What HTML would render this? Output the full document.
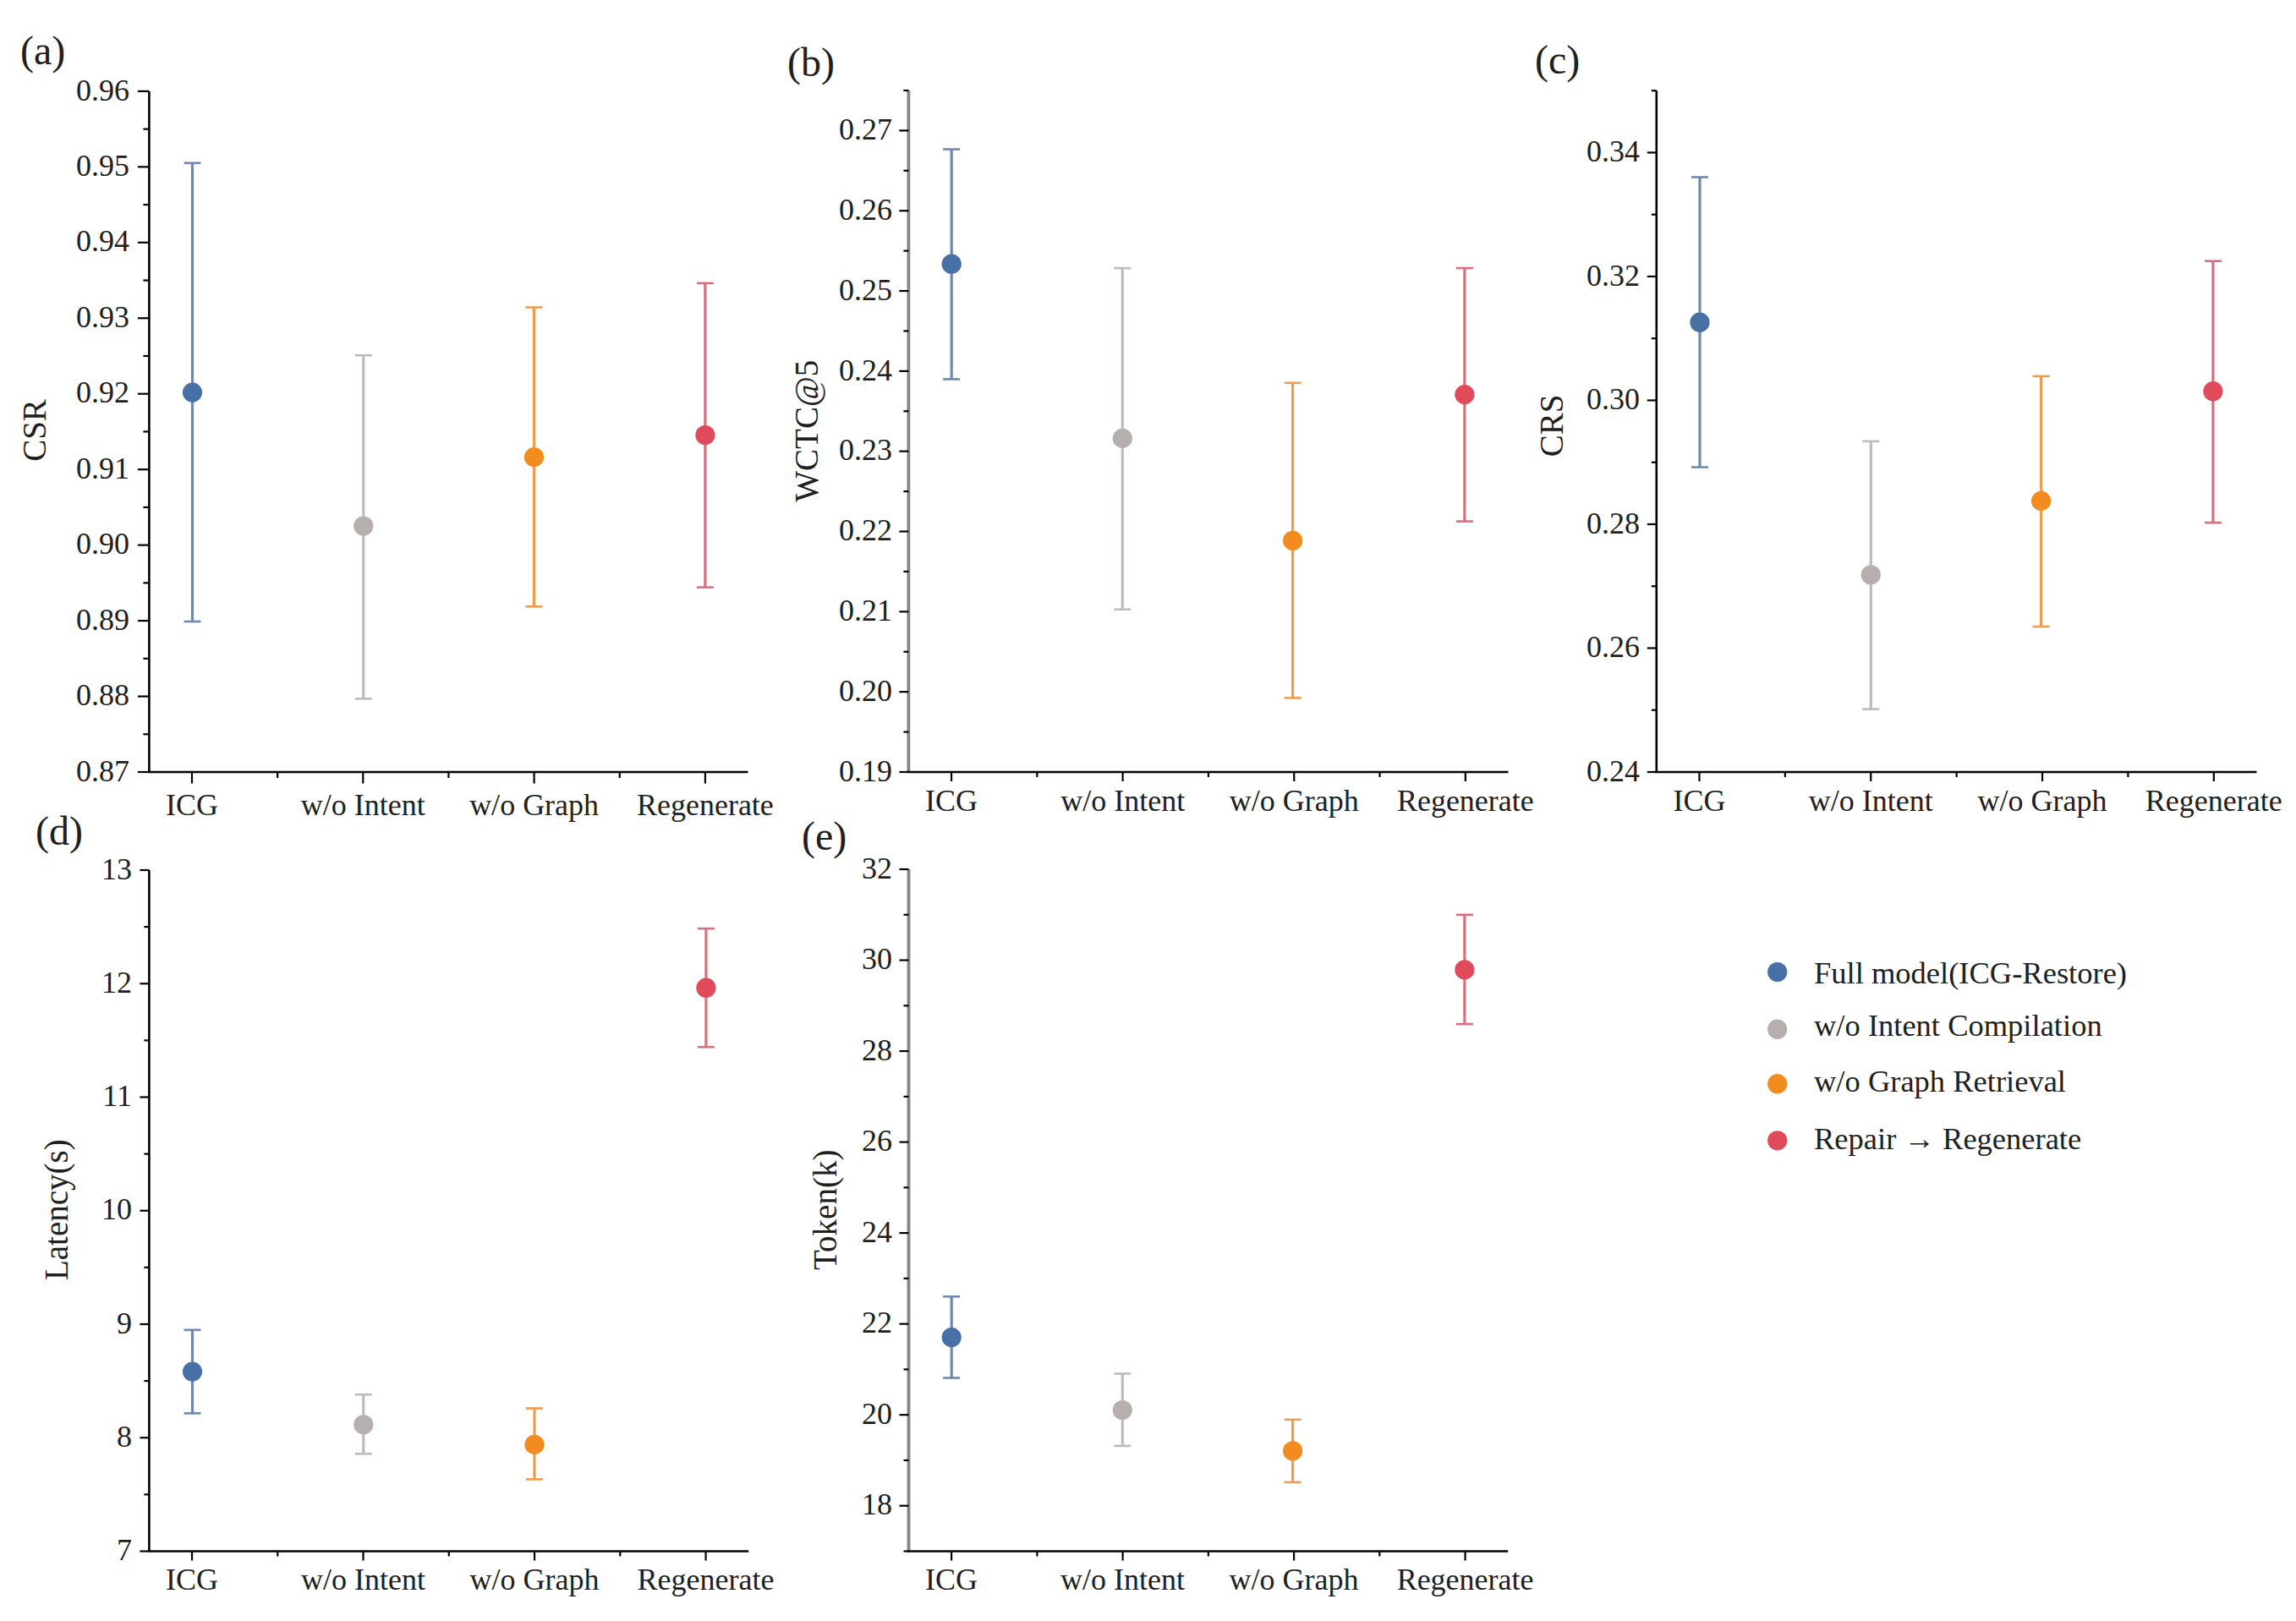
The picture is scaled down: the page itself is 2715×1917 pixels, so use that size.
<!DOCTYPE html>
<html><head><meta charset="utf-8"><title>chart</title>
<style>
html,body{margin:0;padding:0;background:#fff;}
body{width:2715px;height:1917px;overflow:hidden;}
svg{display:block;}
text{font-family:"Liberation Serif", serif;fill:#202020;}
</style></head><body>
<svg width="2715" height="1917" viewBox="0 0 2715 1917">
<rect width="2715" height="1917" fill="#fff"/>
<line x1="176.4" y1="107.9" x2="176.4" y2="913.0" stroke="#000" stroke-width="2.6"/>
<line x1="175.1" y1="913.0" x2="884.5" y2="913.0" stroke="#000" stroke-width="2.6"/>
<line x1="162.9" y1="913.00" x2="176.4" y2="913.00" stroke="#000" stroke-width="2.2"/>
<line x1="162.9" y1="823.54" x2="176.4" y2="823.54" stroke="#000" stroke-width="2.2"/>
<line x1="162.9" y1="734.09" x2="176.4" y2="734.09" stroke="#000" stroke-width="2.2"/>
<line x1="162.9" y1="644.63" x2="176.4" y2="644.63" stroke="#000" stroke-width="2.2"/>
<line x1="162.9" y1="555.18" x2="176.4" y2="555.18" stroke="#000" stroke-width="2.2"/>
<line x1="162.9" y1="465.72" x2="176.4" y2="465.72" stroke="#000" stroke-width="2.2"/>
<line x1="162.9" y1="376.27" x2="176.4" y2="376.27" stroke="#000" stroke-width="2.2"/>
<line x1="162.9" y1="286.81" x2="176.4" y2="286.81" stroke="#000" stroke-width="2.2"/>
<line x1="162.9" y1="197.36" x2="176.4" y2="197.36" stroke="#000" stroke-width="2.2"/>
<line x1="162.9" y1="107.90" x2="176.4" y2="107.90" stroke="#000" stroke-width="2.2"/>
<line x1="169.4" y1="868.27" x2="176.4" y2="868.27" stroke="#000" stroke-width="2.2"/>
<line x1="169.4" y1="778.82" x2="176.4" y2="778.82" stroke="#000" stroke-width="2.2"/>
<line x1="169.4" y1="689.36" x2="176.4" y2="689.36" stroke="#000" stroke-width="2.2"/>
<line x1="169.4" y1="599.91" x2="176.4" y2="599.91" stroke="#000" stroke-width="2.2"/>
<line x1="169.4" y1="510.45" x2="176.4" y2="510.45" stroke="#000" stroke-width="2.2"/>
<line x1="169.4" y1="420.99" x2="176.4" y2="420.99" stroke="#000" stroke-width="2.2"/>
<line x1="169.4" y1="331.54" x2="176.4" y2="331.54" stroke="#000" stroke-width="2.2"/>
<line x1="169.4" y1="242.08" x2="176.4" y2="242.08" stroke="#000" stroke-width="2.2"/>
<line x1="169.4" y1="152.63" x2="176.4" y2="152.63" stroke="#000" stroke-width="2.2"/>
<text x="153" y="923.65" text-anchor="end" font-size="36">0.87</text>
<text x="153" y="834.19" text-anchor="end" font-size="36">0.88</text>
<text x="153" y="744.74" text-anchor="end" font-size="36">0.89</text>
<text x="153" y="655.28" text-anchor="end" font-size="36">0.90</text>
<text x="153" y="565.83" text-anchor="end" font-size="36">0.91</text>
<text x="153" y="476.37" text-anchor="end" font-size="36">0.92</text>
<text x="153" y="386.92" text-anchor="end" font-size="36">0.93</text>
<text x="153" y="297.46" text-anchor="end" font-size="36">0.94</text>
<text x="153" y="208.01" text-anchor="end" font-size="36">0.95</text>
<text x="153" y="118.55" text-anchor="end" font-size="36">0.96</text>
<line x1="226.98" y1="913.0" x2="226.98" y2="926.5" stroke="#000" stroke-width="2.2"/>
<line x1="429.29" y1="913.0" x2="429.29" y2="926.5" stroke="#000" stroke-width="2.2"/>
<line x1="631.61" y1="913.0" x2="631.61" y2="926.5" stroke="#000" stroke-width="2.2"/>
<line x1="833.92" y1="913.0" x2="833.92" y2="926.5" stroke="#000" stroke-width="2.2"/>
<line x1="328.14" y1="913.0" x2="328.14" y2="920.0" stroke="#000" stroke-width="2.2"/>
<line x1="530.45" y1="913.0" x2="530.45" y2="920.0" stroke="#000" stroke-width="2.2"/>
<line x1="732.76" y1="913.0" x2="732.76" y2="920.0" stroke="#000" stroke-width="2.2"/>
<text x="226.98" y="964" text-anchor="middle" font-size="36">ICG</text>
<text x="429.29" y="964" text-anchor="middle" font-size="36">w/o Intent</text>
<text x="631.61" y="964" text-anchor="middle" font-size="36">w/o Graph</text>
<text x="833.92" y="964" text-anchor="middle" font-size="36">Regenerate</text>
<text transform="translate(54,509) rotate(-90)" x="0" y="0" text-anchor="middle" font-size="39">CSR</text>
<text x="24" y="76" font-size="48">(a)</text>
<line x1="227.5" y1="192.8" x2="227.5" y2="735.0" stroke="#6f89ad" stroke-width="3.2"/>
<line x1="217.5" y1="192.8" x2="237.5" y2="192.8" stroke="#6f89ad" stroke-width="2.6"/>
<line x1="217.5" y1="735.0" x2="237.5" y2="735.0" stroke="#6f89ad" stroke-width="2.6"/>
<circle cx="227.5" cy="464.1" r="11.6" fill="#4670a6"/>
<line x1="429.8" y1="420.2" x2="429.8" y2="826.3" stroke="#c0bbb9" stroke-width="3.2"/>
<line x1="419.8" y1="420.2" x2="439.8" y2="420.2" stroke="#c0bbb9" stroke-width="2.6"/>
<line x1="419.8" y1="826.3" x2="439.8" y2="826.3" stroke="#c0bbb9" stroke-width="2.6"/>
<circle cx="429.8" cy="622.0" r="11.6" fill="#b6afad"/>
<line x1="631.5" y1="363.5" x2="631.5" y2="717.3" stroke="#ee9d4e" stroke-width="3.2"/>
<line x1="621.5" y1="363.5" x2="641.5" y2="363.5" stroke="#ee9d4e" stroke-width="2.6"/>
<line x1="621.5" y1="717.3" x2="641.5" y2="717.3" stroke="#ee9d4e" stroke-width="2.6"/>
<circle cx="631.5" cy="540.6" r="11.6" fill="#f28c1e"/>
<line x1="833.9" y1="334.9" x2="833.9" y2="694.6" stroke="#dc6e7c" stroke-width="3.2"/>
<line x1="823.9" y1="334.9" x2="843.9" y2="334.9" stroke="#dc6e7c" stroke-width="2.6"/>
<line x1="823.9" y1="694.6" x2="843.9" y2="694.6" stroke="#dc6e7c" stroke-width="2.6"/>
<circle cx="833.9" cy="514.5" r="11.6" fill="#e04a5a"/>
<line x1="1074.4" y1="107.0" x2="1074.4" y2="913.0" stroke="#858585" stroke-width="3.8"/>
<line x1="1073.1000000000001" y1="913.0" x2="1783.5" y2="913.0" stroke="#000" stroke-width="2.6"/>
<line x1="1063.4" y1="913.00" x2="1074.4" y2="913.00" stroke="#000" stroke-width="2.2"/>
<line x1="1063.4" y1="818.18" x2="1074.4" y2="818.18" stroke="#000" stroke-width="2.2"/>
<line x1="1063.4" y1="723.35" x2="1074.4" y2="723.35" stroke="#000" stroke-width="2.2"/>
<line x1="1063.4" y1="628.53" x2="1074.4" y2="628.53" stroke="#000" stroke-width="2.2"/>
<line x1="1063.4" y1="533.71" x2="1074.4" y2="533.71" stroke="#000" stroke-width="2.2"/>
<line x1="1063.4" y1="438.88" x2="1074.4" y2="438.88" stroke="#000" stroke-width="2.2"/>
<line x1="1063.4" y1="344.06" x2="1074.4" y2="344.06" stroke="#000" stroke-width="2.2"/>
<line x1="1063.4" y1="249.24" x2="1074.4" y2="249.24" stroke="#000" stroke-width="2.2"/>
<line x1="1063.4" y1="154.41" x2="1074.4" y2="154.41" stroke="#000" stroke-width="2.2"/>
<line x1="1068.4" y1="865.59" x2="1074.4" y2="865.59" stroke="#000" stroke-width="2.2"/>
<line x1="1068.4" y1="770.76" x2="1074.4" y2="770.76" stroke="#000" stroke-width="2.2"/>
<line x1="1068.4" y1="675.94" x2="1074.4" y2="675.94" stroke="#000" stroke-width="2.2"/>
<line x1="1068.4" y1="581.12" x2="1074.4" y2="581.12" stroke="#000" stroke-width="2.2"/>
<line x1="1068.4" y1="486.29" x2="1074.4" y2="486.29" stroke="#000" stroke-width="2.2"/>
<line x1="1068.4" y1="391.47" x2="1074.4" y2="391.47" stroke="#000" stroke-width="2.2"/>
<line x1="1068.4" y1="296.65" x2="1074.4" y2="296.65" stroke="#000" stroke-width="2.2"/>
<line x1="1068.4" y1="201.82" x2="1074.4" y2="201.82" stroke="#000" stroke-width="2.2"/>
<line x1="1068.4" y1="107.00" x2="1074.4" y2="107.00" stroke="#000" stroke-width="2.2"/>
<text x="1055" y="923.65" text-anchor="end" font-size="36">0.19</text>
<text x="1055" y="828.83" text-anchor="end" font-size="36">0.20</text>
<text x="1055" y="734.00" text-anchor="end" font-size="36">0.21</text>
<text x="1055" y="639.18" text-anchor="end" font-size="36">0.22</text>
<text x="1055" y="544.36" text-anchor="end" font-size="36">0.23</text>
<text x="1055" y="449.53" text-anchor="end" font-size="36">0.24</text>
<text x="1055" y="354.71" text-anchor="end" font-size="36">0.25</text>
<text x="1055" y="259.89" text-anchor="end" font-size="36">0.26</text>
<text x="1055" y="165.06" text-anchor="end" font-size="36">0.27</text>
<line x1="1125.05" y1="913.0" x2="1125.05" y2="924.0" stroke="#000" stroke-width="2.2"/>
<line x1="1327.65" y1="913.0" x2="1327.65" y2="924.0" stroke="#000" stroke-width="2.2"/>
<line x1="1530.25" y1="913.0" x2="1530.25" y2="924.0" stroke="#000" stroke-width="2.2"/>
<line x1="1732.85" y1="913.0" x2="1732.85" y2="924.0" stroke="#000" stroke-width="2.2"/>
<line x1="1226.35" y1="913.0" x2="1226.35" y2="919.0" stroke="#000" stroke-width="2.2"/>
<line x1="1428.95" y1="913.0" x2="1428.95" y2="919.0" stroke="#000" stroke-width="2.2"/>
<line x1="1631.55" y1="913.0" x2="1631.55" y2="919.0" stroke="#000" stroke-width="2.2"/>
<text x="1125.05" y="959" text-anchor="middle" font-size="36">ICG</text>
<text x="1327.65" y="959" text-anchor="middle" font-size="36">w/o Intent</text>
<text x="1530.25" y="959" text-anchor="middle" font-size="36">w/o Graph</text>
<text x="1732.85" y="959" text-anchor="middle" font-size="36">Regenerate</text>
<text transform="translate(967,509.7) rotate(-90)" x="0" y="0" text-anchor="middle" font-size="39">WCTC@5</text>
<text x="931" y="89.5" font-size="48">(b)</text>
<line x1="1125.2" y1="176.5" x2="1125.2" y2="448.4" stroke="#6f89ad" stroke-width="3.2"/>
<line x1="1115.2" y1="176.5" x2="1135.2" y2="176.5" stroke="#6f89ad" stroke-width="2.6"/>
<line x1="1115.2" y1="448.4" x2="1135.2" y2="448.4" stroke="#6f89ad" stroke-width="2.6"/>
<circle cx="1125.2" cy="312.2" r="11.6" fill="#4670a6"/>
<line x1="1327.3" y1="317.1" x2="1327.3" y2="720.7" stroke="#c0bbb9" stroke-width="3.2"/>
<line x1="1317.3" y1="317.1" x2="1337.3" y2="317.1" stroke="#c0bbb9" stroke-width="2.6"/>
<line x1="1317.3" y1="720.7" x2="1337.3" y2="720.7" stroke="#c0bbb9" stroke-width="2.6"/>
<circle cx="1327.3" cy="518.4" r="11.6" fill="#b6afad"/>
<line x1="1528.6" y1="452.8" x2="1528.6" y2="825.3" stroke="#ee9d4e" stroke-width="3.2"/>
<line x1="1518.6" y1="452.8" x2="1538.6" y2="452.8" stroke="#ee9d4e" stroke-width="2.6"/>
<line x1="1518.6" y1="825.3" x2="1538.6" y2="825.3" stroke="#ee9d4e" stroke-width="2.6"/>
<circle cx="1528.6" cy="639.3" r="11.6" fill="#f28c1e"/>
<line x1="1731.9" y1="317.1" x2="1731.9" y2="616.6" stroke="#dc6e7c" stroke-width="3.2"/>
<line x1="1721.9" y1="317.1" x2="1741.9" y2="317.1" stroke="#dc6e7c" stroke-width="2.6"/>
<line x1="1721.9" y1="616.6" x2="1741.9" y2="616.6" stroke="#dc6e7c" stroke-width="2.6"/>
<circle cx="1731.9" cy="466.6" r="11.6" fill="#e04a5a"/>
<line x1="1958.8" y1="107.2" x2="1958.8" y2="913.0" stroke="#000" stroke-width="2.6"/>
<line x1="1957.5" y1="913.0" x2="2668.5" y2="913.0" stroke="#000" stroke-width="2.6"/>
<line x1="1947.8" y1="913.00" x2="1958.8" y2="913.00" stroke="#000" stroke-width="2.2"/>
<line x1="1947.8" y1="766.49" x2="1958.8" y2="766.49" stroke="#000" stroke-width="2.2"/>
<line x1="1947.8" y1="619.98" x2="1958.8" y2="619.98" stroke="#000" stroke-width="2.2"/>
<line x1="1947.8" y1="473.47" x2="1958.8" y2="473.47" stroke="#000" stroke-width="2.2"/>
<line x1="1947.8" y1="326.96" x2="1958.8" y2="326.96" stroke="#000" stroke-width="2.2"/>
<line x1="1947.8" y1="180.45" x2="1958.8" y2="180.45" stroke="#000" stroke-width="2.2"/>
<line x1="1952.8" y1="839.75" x2="1958.8" y2="839.75" stroke="#000" stroke-width="2.2"/>
<line x1="1952.8" y1="693.24" x2="1958.8" y2="693.24" stroke="#000" stroke-width="2.2"/>
<line x1="1952.8" y1="546.73" x2="1958.8" y2="546.73" stroke="#000" stroke-width="2.2"/>
<line x1="1952.8" y1="400.22" x2="1958.8" y2="400.22" stroke="#000" stroke-width="2.2"/>
<line x1="1952.8" y1="253.71" x2="1958.8" y2="253.71" stroke="#000" stroke-width="2.2"/>
<line x1="1952.8" y1="107.20" x2="1958.8" y2="107.20" stroke="#000" stroke-width="2.2"/>
<text x="1939" y="923.65" text-anchor="end" font-size="36">0.24</text>
<text x="1939" y="777.14" text-anchor="end" font-size="36">0.26</text>
<text x="1939" y="630.63" text-anchor="end" font-size="36">0.28</text>
<text x="1939" y="484.12" text-anchor="end" font-size="36">0.30</text>
<text x="1939" y="337.61" text-anchor="end" font-size="36">0.32</text>
<text x="1939" y="191.10" text-anchor="end" font-size="36">0.34</text>
<line x1="2009.49" y1="913.0" x2="2009.49" y2="924.0" stroke="#000" stroke-width="2.2"/>
<line x1="2212.26" y1="913.0" x2="2212.26" y2="924.0" stroke="#000" stroke-width="2.2"/>
<line x1="2415.04" y1="913.0" x2="2415.04" y2="924.0" stroke="#000" stroke-width="2.2"/>
<line x1="2617.81" y1="913.0" x2="2617.81" y2="924.0" stroke="#000" stroke-width="2.2"/>
<line x1="2110.88" y1="913.0" x2="2110.88" y2="919.0" stroke="#000" stroke-width="2.2"/>
<line x1="2313.65" y1="913.0" x2="2313.65" y2="919.0" stroke="#000" stroke-width="2.2"/>
<line x1="2516.42" y1="913.0" x2="2516.42" y2="919.0" stroke="#000" stroke-width="2.2"/>
<text x="2009.49" y="959" text-anchor="middle" font-size="36">ICG</text>
<text x="2212.26" y="959" text-anchor="middle" font-size="36">w/o Intent</text>
<text x="2415.04" y="959" text-anchor="middle" font-size="36">w/o Graph</text>
<text x="2617.81" y="959" text-anchor="middle" font-size="36">Regenerate</text>
<text transform="translate(1848,503.5) rotate(-90)" x="0" y="0" text-anchor="middle" font-size="39">CRS</text>
<text x="1815" y="86.6" font-size="48">(c)</text>
<line x1="2010.0" y1="209.5" x2="2010.0" y2="552.5" stroke="#6f89ad" stroke-width="3.2"/>
<line x1="2000.0" y1="209.5" x2="2020.0" y2="209.5" stroke="#6f89ad" stroke-width="2.6"/>
<line x1="2000.0" y1="552.5" x2="2020.0" y2="552.5" stroke="#6f89ad" stroke-width="2.6"/>
<circle cx="2010.0" cy="381.2" r="11.6" fill="#4670a6"/>
<line x1="2212.3" y1="521.9" x2="2212.3" y2="838.6" stroke="#c0bbb9" stroke-width="3.2"/>
<line x1="2202.3" y1="521.9" x2="2222.3" y2="521.9" stroke="#c0bbb9" stroke-width="2.6"/>
<line x1="2202.3" y1="838.6" x2="2222.3" y2="838.6" stroke="#c0bbb9" stroke-width="2.6"/>
<circle cx="2212.3" cy="679.8" r="11.6" fill="#b6afad"/>
<line x1="2413.6" y1="444.9" x2="2413.6" y2="741.0" stroke="#ee9d4e" stroke-width="3.2"/>
<line x1="2403.6" y1="444.9" x2="2423.6" y2="444.9" stroke="#ee9d4e" stroke-width="2.6"/>
<line x1="2403.6" y1="741.0" x2="2423.6" y2="741.0" stroke="#ee9d4e" stroke-width="2.6"/>
<circle cx="2413.6" cy="592.4" r="11.6" fill="#f28c1e"/>
<line x1="2616.9" y1="308.7" x2="2616.9" y2="618.1" stroke="#dc6e7c" stroke-width="3.2"/>
<line x1="2606.9" y1="308.7" x2="2626.9" y2="308.7" stroke="#dc6e7c" stroke-width="2.6"/>
<line x1="2606.9" y1="618.1" x2="2626.9" y2="618.1" stroke="#dc6e7c" stroke-width="2.6"/>
<circle cx="2616.9" cy="462.7" r="11.6" fill="#e04a5a"/>
<line x1="176.4" y1="1029.0" x2="176.4" y2="1834.5" stroke="#000" stroke-width="2.6"/>
<line x1="175.1" y1="1834.5" x2="885.2" y2="1834.5" stroke="#000" stroke-width="2.6"/>
<line x1="165.4" y1="1834.50" x2="176.4" y2="1834.50" stroke="#000" stroke-width="2.2"/>
<line x1="165.4" y1="1700.25" x2="176.4" y2="1700.25" stroke="#000" stroke-width="2.2"/>
<line x1="165.4" y1="1566.00" x2="176.4" y2="1566.00" stroke="#000" stroke-width="2.2"/>
<line x1="165.4" y1="1431.75" x2="176.4" y2="1431.75" stroke="#000" stroke-width="2.2"/>
<line x1="165.4" y1="1297.50" x2="176.4" y2="1297.50" stroke="#000" stroke-width="2.2"/>
<line x1="165.4" y1="1163.25" x2="176.4" y2="1163.25" stroke="#000" stroke-width="2.2"/>
<line x1="165.4" y1="1029.00" x2="176.4" y2="1029.00" stroke="#000" stroke-width="2.2"/>
<line x1="170.4" y1="1767.38" x2="176.4" y2="1767.38" stroke="#000" stroke-width="2.2"/>
<line x1="170.4" y1="1633.12" x2="176.4" y2="1633.12" stroke="#000" stroke-width="2.2"/>
<line x1="170.4" y1="1498.88" x2="176.4" y2="1498.88" stroke="#000" stroke-width="2.2"/>
<line x1="170.4" y1="1364.62" x2="176.4" y2="1364.62" stroke="#000" stroke-width="2.2"/>
<line x1="170.4" y1="1230.38" x2="176.4" y2="1230.38" stroke="#000" stroke-width="2.2"/>
<line x1="170.4" y1="1096.12" x2="176.4" y2="1096.12" stroke="#000" stroke-width="2.2"/>
<text x="156" y="1845.15" text-anchor="end" font-size="36">7</text>
<text x="156" y="1710.90" text-anchor="end" font-size="36">8</text>
<text x="156" y="1576.65" text-anchor="end" font-size="36">9</text>
<text x="156" y="1442.40" text-anchor="end" font-size="36">10</text>
<text x="156" y="1308.15" text-anchor="end" font-size="36">11</text>
<text x="156" y="1173.90" text-anchor="end" font-size="36">12</text>
<text x="156" y="1039.65" text-anchor="end" font-size="36">13</text>
<line x1="227.03" y1="1834.5" x2="227.03" y2="1845.5" stroke="#000" stroke-width="2.2"/>
<line x1="429.54" y1="1834.5" x2="429.54" y2="1845.5" stroke="#000" stroke-width="2.2"/>
<line x1="632.06" y1="1834.5" x2="632.06" y2="1845.5" stroke="#000" stroke-width="2.2"/>
<line x1="834.57" y1="1834.5" x2="834.57" y2="1845.5" stroke="#000" stroke-width="2.2"/>
<line x1="328.29" y1="1834.5" x2="328.29" y2="1840.5" stroke="#000" stroke-width="2.2"/>
<line x1="530.80" y1="1834.5" x2="530.80" y2="1840.5" stroke="#000" stroke-width="2.2"/>
<line x1="733.31" y1="1834.5" x2="733.31" y2="1840.5" stroke="#000" stroke-width="2.2"/>
<text x="227.03" y="1880" text-anchor="middle" font-size="36">ICG</text>
<text x="429.54" y="1880" text-anchor="middle" font-size="36">w/o Intent</text>
<text x="632.06" y="1880" text-anchor="middle" font-size="36">w/o Graph</text>
<text x="834.57" y="1880" text-anchor="middle" font-size="36">Regenerate</text>
<text transform="translate(80.3,1430.7) rotate(-90)" x="0" y="0" text-anchor="middle" font-size="39">Latency(s)</text>
<text x="42" y="998.5" font-size="48">(d)</text>
<line x1="227.5" y1="1572.8" x2="227.5" y2="1671.4" stroke="#6f89ad" stroke-width="3.2"/>
<line x1="217.5" y1="1572.8" x2="237.5" y2="1572.8" stroke="#6f89ad" stroke-width="2.6"/>
<line x1="217.5" y1="1671.4" x2="237.5" y2="1671.4" stroke="#6f89ad" stroke-width="2.6"/>
<circle cx="227.5" cy="1622.1" r="11.6" fill="#4670a6"/>
<line x1="429.8" y1="1649.2" x2="429.8" y2="1719.3" stroke="#c0bbb9" stroke-width="3.2"/>
<line x1="419.8" y1="1649.2" x2="439.8" y2="1649.2" stroke="#c0bbb9" stroke-width="2.6"/>
<line x1="419.8" y1="1719.3" x2="439.8" y2="1719.3" stroke="#c0bbb9" stroke-width="2.6"/>
<circle cx="429.8" cy="1684.8" r="11.6" fill="#b6afad"/>
<line x1="632.0" y1="1665.5" x2="632.0" y2="1749.4" stroke="#ee9d4e" stroke-width="3.2"/>
<line x1="622.0" y1="1665.5" x2="642.0" y2="1665.5" stroke="#ee9d4e" stroke-width="2.6"/>
<line x1="622.0" y1="1749.4" x2="642.0" y2="1749.4" stroke="#ee9d4e" stroke-width="2.6"/>
<circle cx="632.0" cy="1708.4" r="11.6" fill="#f28c1e"/>
<line x1="834.9" y1="1098.1" x2="834.9" y2="1238.2" stroke="#dc6e7c" stroke-width="3.2"/>
<line x1="824.9" y1="1098.1" x2="844.9" y2="1098.1" stroke="#dc6e7c" stroke-width="2.6"/>
<line x1="824.9" y1="1238.2" x2="844.9" y2="1238.2" stroke="#dc6e7c" stroke-width="2.6"/>
<circle cx="834.9" cy="1168.2" r="11.6" fill="#e04a5a"/>
<line x1="1074.5" y1="1028.0" x2="1074.5" y2="1834.5" stroke="#858585" stroke-width="3.8"/>
<line x1="1073.2" y1="1834.5" x2="1783.2" y2="1834.5" stroke="#000" stroke-width="2.6"/>
<line x1="1063.5" y1="1780.73" x2="1074.5" y2="1780.73" stroke="#000" stroke-width="2.2"/>
<line x1="1063.5" y1="1673.20" x2="1074.5" y2="1673.20" stroke="#000" stroke-width="2.2"/>
<line x1="1063.5" y1="1565.67" x2="1074.5" y2="1565.67" stroke="#000" stroke-width="2.2"/>
<line x1="1063.5" y1="1458.13" x2="1074.5" y2="1458.13" stroke="#000" stroke-width="2.2"/>
<line x1="1063.5" y1="1350.60" x2="1074.5" y2="1350.60" stroke="#000" stroke-width="2.2"/>
<line x1="1063.5" y1="1243.07" x2="1074.5" y2="1243.07" stroke="#000" stroke-width="2.2"/>
<line x1="1063.5" y1="1135.53" x2="1074.5" y2="1135.53" stroke="#000" stroke-width="2.2"/>
<line x1="1063.5" y1="1028.00" x2="1074.5" y2="1028.00" stroke="#000" stroke-width="2.2"/>
<line x1="1068.5" y1="1834.50" x2="1074.5" y2="1834.50" stroke="#000" stroke-width="2.2"/>
<line x1="1068.5" y1="1726.97" x2="1074.5" y2="1726.97" stroke="#000" stroke-width="2.2"/>
<line x1="1068.5" y1="1619.43" x2="1074.5" y2="1619.43" stroke="#000" stroke-width="2.2"/>
<line x1="1068.5" y1="1511.90" x2="1074.5" y2="1511.90" stroke="#000" stroke-width="2.2"/>
<line x1="1068.5" y1="1404.37" x2="1074.5" y2="1404.37" stroke="#000" stroke-width="2.2"/>
<line x1="1068.5" y1="1296.83" x2="1074.5" y2="1296.83" stroke="#000" stroke-width="2.2"/>
<line x1="1068.5" y1="1189.30" x2="1074.5" y2="1189.30" stroke="#000" stroke-width="2.2"/>
<line x1="1068.5" y1="1081.77" x2="1074.5" y2="1081.77" stroke="#000" stroke-width="2.2"/>
<text x="1055" y="1791.38" text-anchor="end" font-size="36">18</text>
<text x="1055" y="1683.85" text-anchor="end" font-size="36">20</text>
<text x="1055" y="1576.32" text-anchor="end" font-size="36">22</text>
<text x="1055" y="1468.78" text-anchor="end" font-size="36">24</text>
<text x="1055" y="1361.25" text-anchor="end" font-size="36">26</text>
<text x="1055" y="1253.72" text-anchor="end" font-size="36">28</text>
<text x="1055" y="1146.18" text-anchor="end" font-size="36">30</text>
<text x="1055" y="1038.65" text-anchor="end" font-size="36">32</text>
<line x1="1125.12" y1="1834.5" x2="1125.12" y2="1845.5" stroke="#000" stroke-width="2.2"/>
<line x1="1327.61" y1="1834.5" x2="1327.61" y2="1845.5" stroke="#000" stroke-width="2.2"/>
<line x1="1530.09" y1="1834.5" x2="1530.09" y2="1845.5" stroke="#000" stroke-width="2.2"/>
<line x1="1732.58" y1="1834.5" x2="1732.58" y2="1845.5" stroke="#000" stroke-width="2.2"/>
<line x1="1226.36" y1="1834.5" x2="1226.36" y2="1840.5" stroke="#000" stroke-width="2.2"/>
<line x1="1428.85" y1="1834.5" x2="1428.85" y2="1840.5" stroke="#000" stroke-width="2.2"/>
<line x1="1631.34" y1="1834.5" x2="1631.34" y2="1840.5" stroke="#000" stroke-width="2.2"/>
<text x="1125.12" y="1880" text-anchor="middle" font-size="36">ICG</text>
<text x="1327.61" y="1880" text-anchor="middle" font-size="36">w/o Intent</text>
<text x="1530.09" y="1880" text-anchor="middle" font-size="36">w/o Graph</text>
<text x="1732.58" y="1880" text-anchor="middle" font-size="36">Regenerate</text>
<text transform="translate(988.9,1430.8) rotate(-90)" x="0" y="0" text-anchor="middle" font-size="39">Token(k)</text>
<text x="948" y="1004.5" font-size="48">(e)</text>
<line x1="1125.2" y1="1533.3" x2="1125.2" y2="1629.5" stroke="#6f89ad" stroke-width="3.2"/>
<line x1="1115.2" y1="1533.3" x2="1135.2" y2="1533.3" stroke="#6f89ad" stroke-width="2.6"/>
<line x1="1115.2" y1="1629.5" x2="1135.2" y2="1629.5" stroke="#6f89ad" stroke-width="2.6"/>
<circle cx="1125.2" cy="1581.6" r="11.6" fill="#4670a6"/>
<line x1="1327.3" y1="1624.6" x2="1327.3" y2="1709.9" stroke="#c0bbb9" stroke-width="3.2"/>
<line x1="1317.3" y1="1624.6" x2="1337.3" y2="1624.6" stroke="#c0bbb9" stroke-width="2.6"/>
<line x1="1317.3" y1="1709.9" x2="1337.3" y2="1709.9" stroke="#c0bbb9" stroke-width="2.6"/>
<circle cx="1327.3" cy="1667.5" r="11.6" fill="#b6afad"/>
<line x1="1528.6" y1="1678.8" x2="1528.6" y2="1752.9" stroke="#ee9d4e" stroke-width="3.2"/>
<line x1="1518.6" y1="1678.8" x2="1538.6" y2="1678.8" stroke="#ee9d4e" stroke-width="2.6"/>
<line x1="1518.6" y1="1752.9" x2="1538.6" y2="1752.9" stroke="#ee9d4e" stroke-width="2.6"/>
<circle cx="1528.6" cy="1715.8" r="11.6" fill="#f28c1e"/>
<line x1="1731.9" y1="1081.8" x2="1731.9" y2="1211.1" stroke="#dc6e7c" stroke-width="3.2"/>
<line x1="1721.9" y1="1081.8" x2="1741.9" y2="1081.8" stroke="#dc6e7c" stroke-width="2.6"/>
<line x1="1721.9" y1="1211.1" x2="1741.9" y2="1211.1" stroke="#dc6e7c" stroke-width="2.6"/>
<circle cx="1731.9" cy="1146.9" r="11.6" fill="#e04a5a"/>
<circle cx="2101.7" cy="1149.5" r="11.6" fill="#4670a6"/>
<text x="2145" y="1162.5" font-size="36.5">Full model(ICG-Restore)</text>
<circle cx="2101.7" cy="1217.2" r="11.6" fill="#b6afad"/>
<text x="2145" y="1224.6" font-size="36.5">w/o Intent Compilation</text>
<circle cx="2101.7" cy="1281.7" r="11.6" fill="#f28c1e"/>
<text x="2145" y="1290.7" font-size="36.5">w/o Graph Retrieval</text>
<circle cx="2101.7" cy="1348.8" r="11.6" fill="#e04a5a"/>
<text x="2145" y="1359.4" font-size="36.5">Repair → Regenerate</text>
</svg>
</body></html>
